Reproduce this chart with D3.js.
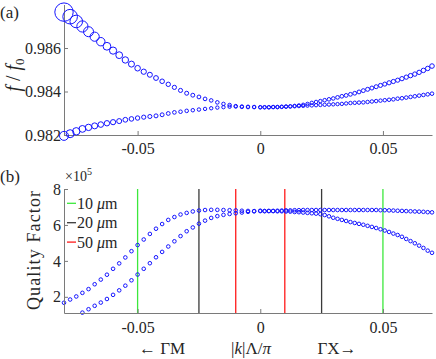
<!DOCTYPE html>
<html>
<head>
<meta charset="utf-8">
<script src="https://cdn.jsdelivr.net/npm/d3@7"></script>
<style>
  body { margin: 0; background: #fff; }
  svg text { font-family: "Liberation Serif", "Times New Roman", serif; fill: #262626; }
</style>
</head>
<body>
<div id="chart"></div>
<script>
var width = 436, height = 359;

// |k|Λ/π : negative side is the ΓM direction, positive side ΓX
var kValues = [
  -0.08, -0.0775, -0.075, -0.0725, -0.07, -0.0675, -0.065, -0.0625, -0.06, -0.0575,
  -0.055, -0.0525, -0.05, -0.0475, -0.045, -0.0425, -0.04, -0.0375, -0.035, -0.0325,
  -0.03, -0.0275, -0.025, -0.0225, -0.02, -0.0175, -0.015, -0.0125, -0.01, -0.0075,
  -0.005, -0.0025, 0,
  0.00175, 0.0035, 0.00525, 0.007, 0.00875, 0.0105, 0.01225, 0.014, 0.01575, 0.0175,
  0.01925, 0.021, 0.02275, 0.0245, 0.02625, 0.028, 0.02975, 0.0315, 0.03325, 0.035,
  0.03675, 0.0385, 0.04025, 0.042, 0.04375, 0.0455, 0.04725, 0.049, 0.05075, 0.0525,
  0.05425, 0.056, 0.05775, 0.0595, 0.06125, 0.063, 0.06475, 0.0665, 0.06825, 0.07
]

// f/f0, upper and lower band
var fUpper = [
  0.98765, 0.98744, 0.98722, 0.98699, 0.98675, 0.98652, 0.98629, 0.98608, 0.98588, 0.98567,
  0.98545, 0.98526, 0.98507, 0.98491, 0.98477, 0.98462, 0.98447, 0.98433, 0.98419, 0.98405,
  0.98392, 0.98383, 0.98375, 0.98366, 0.98359, 0.98350, 0.98343, 0.98338, 0.98333, 0.98331,
  0.98330, 0.98329, 0.98328,
  0.98328, 0.98328, 0.98329, 0.98329, 0.98330, 0.98331, 0.98332, 0.98334, 0.98336, 0.98339,
  0.98343, 0.98348, 0.98352, 0.98356, 0.98360, 0.98364, 0.98368, 0.98373, 0.98378, 0.98382,
  0.98387, 0.98392, 0.98398, 0.98404, 0.98410, 0.98416, 0.98422, 0.98428, 0.98434, 0.98440,
  0.98446, 0.98452, 0.98459, 0.98466, 0.98473, 0.98480, 0.98488, 0.98497, 0.98506, 0.98517
]
var fLower = [
  0.98196, 0.98206, 0.98217, 0.98228, 0.98235, 0.98242, 0.98248, 0.98254, 0.98259, 0.98264,
  0.98270, 0.98274, 0.98278, 0.98282, 0.98285, 0.98288, 0.98293, 0.98299, 0.98304, 0.98307,
  0.98311, 0.98314, 0.98317, 0.98320, 0.98323, 0.98326, 0.98328, 0.98330, 0.98331, 0.98329,
  0.98328, 0.98328, 0.98327,
  0.98327, 0.98327, 0.98328, 0.98328, 0.98329, 0.98330, 0.98331, 0.98332, 0.98333, 0.98334,
  0.98335, 0.98336, 0.98337, 0.98338, 0.98339, 0.98340, 0.98341, 0.98342, 0.98343, 0.98345,
  0.98347, 0.98348, 0.98349, 0.98350, 0.98352, 0.98354, 0.98356, 0.98358, 0.98360, 0.98362,
  0.98364, 0.98367, 0.98369, 0.98372, 0.98375, 0.98378, 0.98381, 0.98384, 0.98387, 0.98390
]

// marker radius (loss) for each band in panel (a)
var rUpper = [
  9.2, 7.3, 6.3, 5.6, 5.0, 4.6, 4.2, 3.9, 3.6, 3.4,
  3.2, 3.0, 2.8, 2.65, 2.5, 2.4, 2.3, 2.2, 2.1, 2.05,
  2.0, 1.95, 1.9, 1.85, 1.8, 1.8, 1.75, 1.75, 1.7, 1.7,
  1.7, 1.7, 1.7,
  1.7, 1.7, 1.7, 1.7, 1.7, 1.7, 1.7, 1.7, 1.7, 1.7,
  1.7, 1.7, 1.75, 1.75, 1.8, 1.8, 1.8, 1.85, 1.85, 1.9,
  1.9, 1.9, 1.95, 1.95, 2.0, 2.0, 2.0, 2.05, 2.05, 2.1,
  2.1, 2.1, 2.15, 2.15, 2.2, 2.2, 2.2, 2.25, 2.25, 2.3
]
var rLower = [
  4.5, 4.0, 3.7, 3.4, 3.2, 3.0, 2.8, 2.7, 2.6, 2.5,
  2.4, 2.3, 2.2, 2.1, 2.05, 2.0, 1.95, 1.9, 1.85, 1.8,
  1.8, 1.75, 1.75, 1.7, 1.7, 1.7, 1.7, 1.7, 1.7, 1.7,
  1.7, 1.7, 1.7,
  1.7, 1.7, 1.7, 1.7, 1.7, 1.7, 1.7, 1.7, 1.7, 1.7,
  1.7, 1.7, 1.7, 1.7, 1.7, 1.7, 1.7, 1.7, 1.7, 1.7,
  1.75, 1.75, 1.75, 1.75, 1.75, 1.75, 1.75, 1.75, 1.75, 1.75,
  1.8, 1.8, 1.8, 1.8, 1.8, 1.8, 1.8, 1.8, 1.8, 1.8
]

// quality factor (x 1e5)
var qUpper = [
  1.67, 1.85, 2.02, 2.22, 2.43, 2.70, 2.96, 3.23, 3.56, 3.86,
  4.19, 4.54, 4.88, 5.19, 5.50, 5.79, 6.05, 6.28, 6.44, 6.58,
  6.67, 6.75, 6.80, 6.83, 6.84, 6.84, 6.83, 6.82, 6.81, 6.79,
  6.78, 6.77, 6.77,
  6.77, 6.78, 6.78, 6.79, 6.80, 6.81, 6.81, 6.82, 6.82, 6.83,
  6.83, 6.83, 6.83, 6.83, 6.83, 6.83, 6.83, 6.83, 6.83, 6.83,
  6.83, 6.83, 6.83, 6.83, 6.83, 6.83, 6.83, 6.82, 6.82, 6.81,
  6.80, 6.79, 6.78, 6.77, 6.76, 6.75, 6.74, 6.73, 6.71, 6.70
]
var qLower = [
  null, null, null, 1.12, 1.31, 1.50, 1.68, 1.88, 2.11, 2.36,
  2.62, 2.92, 3.24, 3.56, 3.87, 4.20, 4.50, 4.80, 5.09, 5.38,
  5.65, 5.86, 6.07, 6.24, 6.39, 6.49, 6.56, 6.61, 6.65, 6.69,
  6.73, 6.76, 6.79,
  6.77, 6.77, 6.77, 6.76, 6.76, 6.75, 6.74, 6.72, 6.71, 6.69,
  6.67, 6.65, 6.63, 6.60, 6.55, 6.48, 6.40, 6.34, 6.28, 6.22,
  6.16, 6.11, 6.06, 6.01, 5.95, 5.89, 5.83, 5.76, 5.69, 5.61,
  5.52, 5.44, 5.34, 5.22, 5.10, 4.98, 4.85, 4.72, 4.57, 4.45
]

var kTicks = [-0.05, 0, 0.05]
var fTicks = [0.982, 0.984, 0.986]
var qTicks = [2, 4, 6, 8]

// cut-off lines at ±k for each device size
var cutoffSizes = ["10", "20", "50"]
var cutoffK = [0.05, 0.025, 0.01]
var cutoffColors = ["#3ce83c", "#3a3a3a", "#ff1a1a"]

var axisColor = "#7a7a7a"
var blue = "#1414ff"

var svg = d3.select("#chart")
  .append("svg")
  .attr("width", width)
  .attr("height", height)

var xScale = d3.scaleLinear().domain([-0.08, 0.07]).range([64, 432])
var yF = d3.scaleLinear().domain([0.982, 0.988]).range([135, 4.5])
var yQ = d3.scaleLinear().domain([1.1, 8]).range([313, 189])

var pts = kValues.map(function(k, i) {
  return { k: k, f1: fUpper[i], f2: fLower[i], r1: rUpper[i], r2: rLower[i], q1: qUpper[i], q2: qLower[i] }
})

var kFormat = d => d === 0 ? "0" : d3.format(".2f")(d).replace("\u2212", "-")

function styleAxis(g) {
  g.attr("font-family", null).attr("font-size", null)
  g.style("color", axisColor)
  g.selectAll(".domain").attr("stroke-width", 1)
  g.selectAll(".tick text")
    .style("font-family", '"Liberation Serif", serif')
    .style("font-size", "16px")
    .style("fill", "#262626")
}

// ---------- panel (a) ----------
svg.append("g")
  .attr("transform", "translate(0,135)")
  .call(d3.axisBottom(xScale).tickValues(kTicks).tickSize(-4).tickSizeOuter(0).tickPadding(8)
    .tickFormat(kFormat))
  .call(styleAxis)

svg.append("g")
  .attr("transform", "translate(64,0)")
  .call(d3.axisLeft(yF).tickValues(fTicks).tickSize(-4).tickSizeOuter(0).tickPadding(3)
    .tickFormat(d3.format(".3f")))
  .call(styleAxis)

var aG = svg.append("g").attr("class", "panel-a")

aG.selectAll(".c1")
  .data(pts)
  .enter()
  .append("circle")
  .attr("cx", d => xScale(d.k))
  .attr("cy", d => yF(d.f1))
  .attr("r", d => d.r1)
  .attr("fill", "none")
  .attr("stroke", blue)
  .attr("stroke-width", 1)

aG.selectAll(".c2")
  .data(pts)
  .enter()
  .append("circle")
  .attr("cx", d => xScale(d.k))
  .attr("cy", d => yF(d.f2))
  .attr("r", d => d.r2)
  .attr("fill", "none")
  .attr("stroke", blue)
  .attr("stroke-width", 1)

svg.append("text")
  .attr("x", 0)
  .attr("y", 18)
  .style("font-size", "17px")
  .text("(a)")

var fLabel = svg.append("text")
  .attr("transform", "translate(19.5,75) rotate(-90)")
  .attr("text-anchor", "middle")
  .style("font-size", "20px")
fLabel.append("tspan").style("font-style", "italic").text("f")
fLabel.append("tspan").text(" / ")
fLabel.append("tspan").style("font-style", "italic").text("f")
fLabel.append("tspan").attr("dy", 4).style("font-size", "13px").text("0")

// ---------- panel (b) ----------
var bG = svg.append("g").attr("class", "panel-b")

cutoffK.forEach(function(k, i) {
  bG.selectAll(".cut-" + i)
    .data([-k, k])
    .enter()
    .append("line")
    .attr("x1", d => xScale(d))
    .attr("x2", d => xScale(d))
    .attr("y1", yQ(8))
    .attr("y2", yQ(1.1))
    .attr("stroke", cutoffColors[i])
    .attr("stroke-width", 1.3)
})

svg.append("g")
  .attr("transform", "translate(0,313)")
  .call(d3.axisBottom(xScale).tickValues(kTicks).tickSize(-4).tickSizeOuter(0).tickPadding(9)
    .tickFormat(kFormat))
  .call(styleAxis)

svg.append("g")
  .attr("transform", "translate(64,0)")
  .call(d3.axisLeft(yQ).tickValues(qTicks).tickSize(-4).tickSizeOuter(0).tickPadding(3)
    .tickFormat(d3.format("d")))
  .call(styleAxis)

bG.selectAll(".q1")
  .data(pts)
  .enter()
  .append("circle")
  .attr("cx", d => xScale(d.k))
  .attr("cy", d => yQ(d.q1))
  .attr("r", 1.8)
  .attr("fill", "none")
  .attr("stroke", blue)
  .attr("stroke-width", 1)

bG.selectAll(".q2")
  .data(pts.filter(d => d.q2 !== null))
  .enter()
  .append("circle")
  .attr("cx", d => xScale(d.k))
  .attr("cy", d => yQ(d.q2))
  .attr("r", 1.8)
  .attr("fill", "none")
  .attr("stroke", blue)
  .attr("stroke-width", 1)

// legend
var legend = svg.append("g").attr("class", "legend")
cutoffSizes.forEach(function(s, i) {
  var y = 203.3 + i * 19.4
  legend.append("line")
    .attr("x1", 67).attr("x2", 76)
    .attr("y1", y).attr("y2", y)
    .attr("stroke", cutoffColors[i])
    .attr("stroke-width", 1.3)
  var t = legend.append("text")
    .attr("x", 77)
    .attr("y", y + 5.5)
    .style("font-size", "16px")
  t.append("tspan").text(s + " ")
  t.append("tspan").style("font-style", "italic").text("\u03bc")
  t.append("tspan").text("m")
})

var mult = svg.append("text")
  .attr("x", 65)
  .attr("y", 181)
  .style("font-size", "14px")
mult.append("tspan").text("\u00d710")
mult.append("tspan").attr("dy", -6).style("font-size", "10px").text("5")

svg.append("text")
  .attr("x", 0)
  .attr("y", 182)
  .style("font-size", "17px")
  .text("(b)")

svg.append("text")
  .attr("transform", "translate(40,250.5) rotate(-90)")
  .attr("text-anchor", "middle")
  .style("font-size", "18px")
  .attr("textLength", 119)
  .attr("lengthAdjust", "spacing")
  .text("Quality Factor")

// x label: ← ΓM   |k|Λ/π   ΓX→
svg.append("text")
  .attr("x", 162)
  .attr("y", 354)
  .attr("text-anchor", "middle")
  .style("font-size", "17px")
  .text("\u2190 \u0393M")

var kLabel = svg.append("text")
  .attr("x", 251)
  .attr("y", 354)
  .attr("text-anchor", "middle")
  .style("font-size", "17px")
kLabel.append("tspan").text("|")
kLabel.append("tspan").style("font-style", "italic").text("k")
kLabel.append("tspan").text("|\u039b/")
kLabel.append("tspan").style("font-style", "italic").text("\u03c0")

svg.append("text")
  .attr("x", 337)
  .attr("y", 354)
  .attr("text-anchor", "middle")
  .style("font-size", "17px")
  .text("\u0393X\u2192")
</script>
</body>
</html>
